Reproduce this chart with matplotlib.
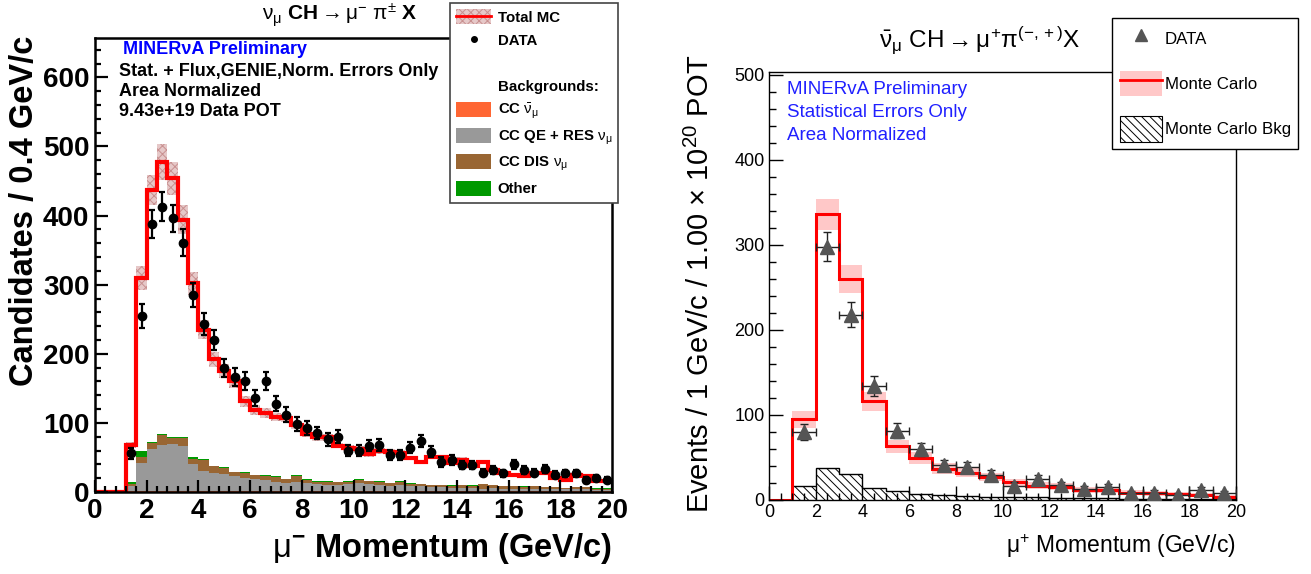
import numpy as np
import matplotlib.pyplot as plt
from matplotlib.patches import Patch
from matplotlib.lines import Line2D
from matplotlib.ticker import MultipleLocator

# ---- left panel: nu_mu CH, 0.4 GeV/c bins (first 3 bins empty) ----
left_edges = np.linspace(0, 20, 51)
left_mc = [0, 0, 0,
           68, 310, 437, 478, 454, 394, 302, 235, 192, 175,
           160, 131, 119, 114, 109, 107, 97, 84, 79, 79,
           67, 64, 62, 55, 59, 58, 57, 49, 43, 51,
           51, 42, 47, 38, 44, 32, 27, 25, 23, 27,
           27, 20, 18, 25, 23, 16, 16]
left_mc_err = [0, 0, 0,
               5, 17, 22, 26, 24, 21, 17, 14, 11, 10,
               9, 8, 7, 7, 6, 6, 6, 5, 5, 5,
               4, 4, 4, 4, 4, 4, 4, 3, 3, 3,
               3, 3, 3, 3, 3, 3, 3, 3, 3, 3,
               3, 3, 3, 3, 3, 3, 3]
bkg_ccbar = [0, 0, 0,
             1, 2, 2, 2, 2, 2, 2, 2, 2, 2,
             2, 2, 2, 2, 2, 2, 2, 2, 2, 2,
             2, 2, 2, 2, 2, 2, 2, 2, 2, 2,
             2, 2, 2, 2, 2, 2, 2, 2, 2, 2,
             2, 2, 2, 2, 2, 2, 2]
bkg_qeres = [0, 0, 0,
             8, 40, 60, 66, 68, 65, 38, 29, 26, 24,
             21, 18, 17, 15, 13, 11, 13, 11, 9, 8,
             8, 10, 11, 9, 8, 7, 8, 6, 6, 5,
             5, 4, 4, 4, 3, 4, 3, 3, 2, 2,
             2, 2, 2, 2, 2, 1, 1]
bkg_dis = [0, 0, 0,
           3, 9, 9, 14, 8, 11, 8, 15, 9, 9,
           6, 8, 5, 6, 6, 6, 8, 5, 4, 5,
           4, 3, 5, 5, 5, 4, 5, 4, 3, 3,
           3, 3, 4, 3, 6, 4, 3, 3, 3, 4,
           3, 3, 2, 3, 3, 2, 2]
bkg_other = [0, 0, 0,
             2, 8, 2, 2, 1.5, 1.5, 3, 2, 1, 0.5,
             0.5, 0.5, 0.5, 1, 1.5, 0.5, 1.5, 0.5, 0.5, 0.5,
             0.5, 0.5, 0.5, 0.5, 0.5, 0.5, 1, 0.5, 0.5, 0.5,
             0.5, 0.5, 0.5, 0.5, 0.5, 0.5, 0.5, 0.5, 1, 0.5,
             0.5, 0.5, 0.5, 0.5, 0.5, 0.5, 1]
left_data = [56, 255, 388, 413, 396, 361, 285, 243, 220, 179,
             167, 161, 136, 161, 128, 112, 98, 93, 85, 76,
             80, 60, 60, 67, 68, 54, 54, 64, 74, 58,
             43, 46, 39, 39, 28, 32, 27, 40, 32, 28,
             33, 25, 27, 27, 17, 20, 18]
left_data_err = [8, 17, 20, 21, 20, 19, 17, 16, 15, 13,
                 13, 13, 12, 13, 11, 11, 10, 10, 9, 9,
                 9, 8, 8, 8, 8, 7, 7, 8, 9, 8,
                 7, 7, 6, 6, 5, 6, 5, 6, 6, 5,
                 6, 5, 5, 5, 4, 4, 4]

# ---- right panel: anti-nu_mu CH, 1 GeV/c bins ----
right_edges = np.arange(0, 21, 1)
right_mc = [0, 95, 336, 260, 116, 63, 49, 37, 32, 27,
            20.6, 17, 15.7, 11.8, 11.8, 8.6, 7.8, 6.7, 5.9, 4]
right_mc_err = [0, 10, 18, 16, 11, 8, 7, 6, 5.5, 5,
                4.5, 4, 4, 3.5, 3.5, 3, 3, 2.5, 2.5, 2]
right_bkg = [0, 16, 38, 31, 14, 11, 7, 6, 5, 4,
             3, 3, 2.5, 2, 2, 1.5, 1.5, 1.5, 1, 1]
right_data = [80, 298, 218, 134, 81.5, 59.6, 41, 39, 29.4, 17,
              24.3, 17.6, 12.5, 14.9, 7.8, 8.6, 5.9, 11.8, 7.8]
right_data_err = [9, 17, 15, 12, 9, 8, 6.5, 6, 5.5, 4,
                  5, 4, 3.5, 4, 3, 3, 2.5, 3.5, 3]

plt.rcParams['font.family'] = ['Liberation Sans', 'DejaVu Sans']
plt.rcParams['mathtext.fontset'] = 'custom'
plt.rcParams['mathtext.rm'] = 'Liberation Sans'
plt.rcParams['mathtext.it'] = 'Liberation Sans:italic'
plt.rcParams['mathtext.bf'] = 'Liberation Sans:bold'
plt.rcParams['hatch.linewidth'] = 0.7

W, H = 1311, 574
fig = plt.figure(figsize=(W / 100, H / 100), dpi=100)


def fx(px):
    return px / W


def fy(py):
    return 1 - py / H


c_orange = '#ff6633'
c_grey = '#999999'
c_brown = '#996633'
c_green = '#009900'
band_face = '#e6c8c8'
band_edge = '#c89090'

# ================= left panel =================
ax1 = fig.add_axes([fx(95), fy(492), (612 - 95) / W, (492 - 38) / H])
mc1 = np.array(left_mc, float)
err1 = np.array(left_mc_err, float)
l1 = np.array(bkg_ccbar, float)
l2 = l1 + np.array(bkg_qeres, float)
l3 = l2 + np.array(bkg_dis, float)
l4 = l3 + np.array(bkg_other, float)

ax1.stairs(l4, left_edges, baseline=l3, fill=True, color=c_green, lw=0)
ax1.stairs(l3, left_edges, baseline=l2, fill=True, color=c_brown, lw=0)
ax1.stairs(l2, left_edges, baseline=l1, fill=True, color=c_grey, lw=0)
ax1.stairs(l1, left_edges, baseline=0, fill=True, color=c_orange, lw=0)
ax1.stairs(mc1 + err1, left_edges, baseline=mc1 - err1, fill=True,
           facecolor=band_face, edgecolor=band_edge, hatch='xxxx', lw=0)
ax1.stairs(mc1, left_edges, color='red', lw=3, baseline=None)

centers1 = 0.5 * (left_edges[:-1] + left_edges[1:])[3:]
ax1.errorbar(centers1, left_data, yerr=left_data_err, fmt='o', color='black',
             ms=6, elinewidth=1.6, capsize=2, capthick=1.6, zorder=5)

ax1.set_xlim(0, 20)
ax1.set_ylim(0, 657)
ax1.xaxis.set_major_locator(MultipleLocator(2))
ax1.xaxis.set_minor_locator(MultipleLocator(0.4))
ax1.yaxis.set_major_locator(MultipleLocator(100))
ax1.yaxis.set_minor_locator(MultipleLocator(20))
ax1.tick_params(which='both', direction='in', top=False, right=False, width=1.6)
ax1.tick_params(which='major', length=9, labelsize=20, pad=4)
ax1.tick_params(which='minor', length=4.5)
for lab in ax1.get_xticklabels() + ax1.get_yticklabels():
    lab.set_fontweight('bold')
for sp in ax1.spines.values():
    sp.set_linewidth(1.8)

fig.text(fx(25), fy(36), 'Candidates / 0.4 GeV/c', rotation=90, ha='center',
         va='top', fontsize=23.5, fontweight='bold')
fig.text(fx(612), fy(548), r'$\mathrm{\mu}^{\mathbf{-}}$ Momentum (GeV/c)',
         ha='right', va='center', fontsize=23.5, fontweight='bold')
fig.text(fx(340), fy(15), r'$\mathrm{\nu_{\mu}}$ $\mathbf{CH} \rightarrow \mathrm{\mu^{-}\ \pi^{\pm}}$ $\mathbf{X}$',
         ha='center', va='center', fontsize=15)

fig.text(fx(123), fy(50), 'MINERνA Preliminary', color='#0000ff',
         fontsize=13, fontweight='bold', va='center')
fig.text(fx(119), fy(72), 'Stat. + Flux,GENIE,Norm. Errors Only',
         fontsize=13, fontweight='bold', va='center')
fig.text(fx(119), fy(92), 'Area Normalized', fontsize=13,
         fontweight='bold', va='center')
fig.text(fx(119), fy(112), '9.43e+19 Data POT', fontsize=13,
         fontweight='bold', va='center')

blank = Line2D([], [], color='none')
h_left = [
    (Patch(facecolor=band_face, edgecolor=band_edge, hatch='xxxx', lw=0),
     Line2D([], [], color='red', lw=2)),
    Line2D([], [], marker='o', color='black', ls='none', ms=4),
    blank,
    blank,
    Patch(facecolor=c_orange),
    Patch(facecolor=c_grey),
    Patch(facecolor=c_brown),
    Patch(facecolor=c_green),
]
lab_left = ['Total MC', 'DATA', ' ', 'Backgrounds:',
            r'CC $\bar{\mathrm{\nu}}_{\mathrm{\mu}}$',
            r'CC QE + RES $\mathrm{\nu_{\mu}}$',
            r'CC DIS $\mathrm{\nu_{\mu}}$', 'Other']
leg1 = fig.legend(h_left, lab_left, loc='upper left',
                  bbox_to_anchor=(fx(450), fy(3)), borderaxespad=0,
                  prop={'weight': 'bold', 'size': 10.8}, frameon=True,
                  fancybox=False, edgecolor='#444444', framealpha=1,
                  handlelength=2.3, handleheight=1.15, handletextpad=0.45,
                  labelspacing=0.5, borderpad=0.42)
leg1.get_frame().set_linewidth(1.2)

# ================= right panel =================
ax2 = fig.add_axes([fx(769), fy(500), (1236 - 769) / W, (500 - 72) / H])
mc2 = np.array(right_mc, float)
err2 = np.array(right_mc_err, float)
ax2.stairs(mc2 + err2, right_edges, baseline=mc2 - err2, fill=True,
           color='#ffc8c8', lw=0)
ax2.stairs(right_bkg, right_edges, baseline=0, fill=True, facecolor='none',
           edgecolor='black', hatch='\\\\\\\\', lw=1)
ax2.stairs(mc2, right_edges, color='red', lw=2.2, baseline=None)
centers2 = 0.5 * (right_edges[:-1] + right_edges[1:])[1:]
ax2.errorbar(centers2, right_data, yerr=right_data_err, xerr=0.5, fmt='^',
             color='#555555', ecolor='#222222', ms=10, elinewidth=1,
             capsize=3, capthick=1, zorder=5)

ax2.set_xlim(0, 20)
ax2.set_ylim(0, 503.5)
ax2.xaxis.set_major_locator(MultipleLocator(2))
ax2.xaxis.set_minor_locator(MultipleLocator(0.5))
ax2.yaxis.set_major_locator(MultipleLocator(100))
ax2.yaxis.set_minor_locator(MultipleLocator(20))
ax2.tick_params(which='both', direction='in', top=False, right=False, width=1)
ax2.tick_params(which='major', length=10, labelsize=13, pad=3)
ax2.tick_params(which='minor', length=5)
for sp in ax2.spines.values():
    sp.set_linewidth(1)

fig.text(fx(700), fy(55), r'Events / 1 GeV/c / 1.00 $\times$ 10$^{20}$ POT',
         rotation=90, ha='center', va='top', fontsize=21)
fig.text(fx(1236), fy(546), r'$\mathrm{\mu^{+}}$ Momentum (GeV/c)',
         ha='right', va='center', fontsize=16.5)
fig.text(fx(980), fy(40), r'$\bar{\mathrm{\nu}}_{\mathrm{\mu}}$ CH$\rightarrow\mathrm{\mu^{+}\pi^{(-,+)}}$X',
         ha='center', va='center', fontsize=17.5)

for i, t in enumerate(['MINERvA Preliminary', 'Statistical Errors Only',
                       'Area Normalized']):
    fig.text(fx(787), fy(90 + 22.5 * i), t, color='#2020ff', fontsize=13.5,
             va='center')

h_right = [
    Line2D([], [], marker='^', color='#555555', ls='none', ms=9),
    (Patch(facecolor='#ffc8c8', lw=0), Line2D([], [], color='red', lw=2)),
    Patch(facecolor='white', edgecolor='black', hatch='\\\\\\\\', lw=0.8),
]
leg2 = fig.legend(h_right, ['DATA', 'Monte Carlo', 'Monte Carlo Bkg'],
                  loc='upper left', bbox_to_anchor=(fx(1112), fy(18)),
                  borderaxespad=0, fontsize=12.2, frameon=True,
                  fancybox=False, edgecolor='black', framealpha=1,
                  handlelength=2.5, handleheight=1.9, handletextpad=0.15,
                  labelspacing=1.2, borderpad=0.45)
leg2.get_frame().set_linewidth(1)

fig.savefig('out.png', dpi=100)
